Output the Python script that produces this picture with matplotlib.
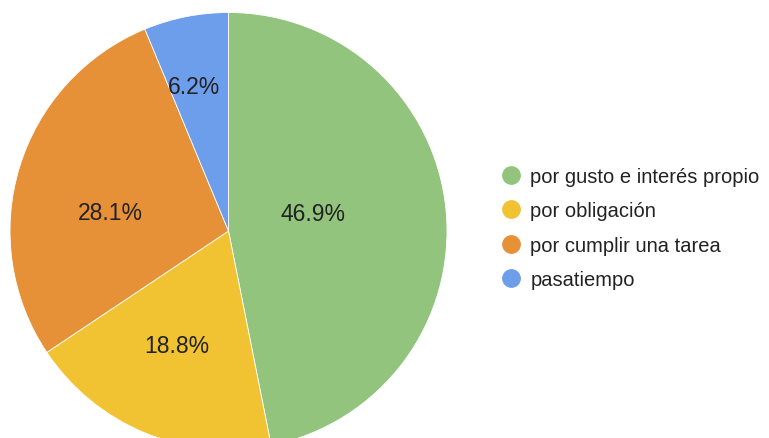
import numpy as np
import matplotlib.pyplot as plt
from matplotlib.lines import Line2D

# respuestas (conteos)
categorias = ['por gusto e interés propio', 'por obligación',
              'por cumplir una tarea', 'pasatiempo']
valores = [15, 6, 9, 2]
colores = ['#93C47D', '#F1C232', '#E69138', '#6D9EEB']
# posición de las etiquetas: distancia al centro y giro respecto al ángulo medio
dist_etiquetas = [0.395, 0.573, 0.547, 0.678]
giro_etiquetas = [5.8, -1.8, 7.8, 2.2]

plt.rcParams['font.family'] = ['Liberation Sans', 'DejaVu Sans']

W, H = 769, 439
fig = plt.figure(figsize=(W / 100, H / 100), dpi=100)
cx, cy, r = 228.5, 232, 218.5
ax = fig.add_axes([(cx - r) / W, (H - cy - r) / H, 2 * r / W, 2 * r / H])

total = sum(valores)
wedges, _ = ax.pie(valores, colors=colores, startangle=90, counterclock=False,
                   radius=1, wedgeprops=dict(linewidth=0.6, edgecolor='white'))
ax.set_xlim(-1, 1)
ax.set_ylim(-1, 1)
ax.set_aspect('equal')
ax.axis('off')

for w, v, d, g in zip(wedges, valores, dist_etiquetas, giro_etiquetas):
    ang = np.deg2rad((w.theta1 + w.theta2) / 2 + g)
    ax.text(d * np.cos(ang), d * np.sin(ang), f'{v / total * 100:.1f}%',
            ha='center', va='center', fontsize=16.5, color='#222222')

handles = [Line2D([], [], marker='o', linestyle='none', markersize=12.5,
                  markerfacecolor=c, markeredgecolor=c) for c in colores]
fig.legend(handles, categorias, loc='center left',
           bbox_to_anchor=(491 / W, 1 - 229 / H), frameon=False,
           fontsize=14.5, labelspacing=0.75, handletextpad=0.45,
           handlelength=1.0, borderpad=0, labelcolor='#222222')

fig.savefig('out.png', dpi=100)
